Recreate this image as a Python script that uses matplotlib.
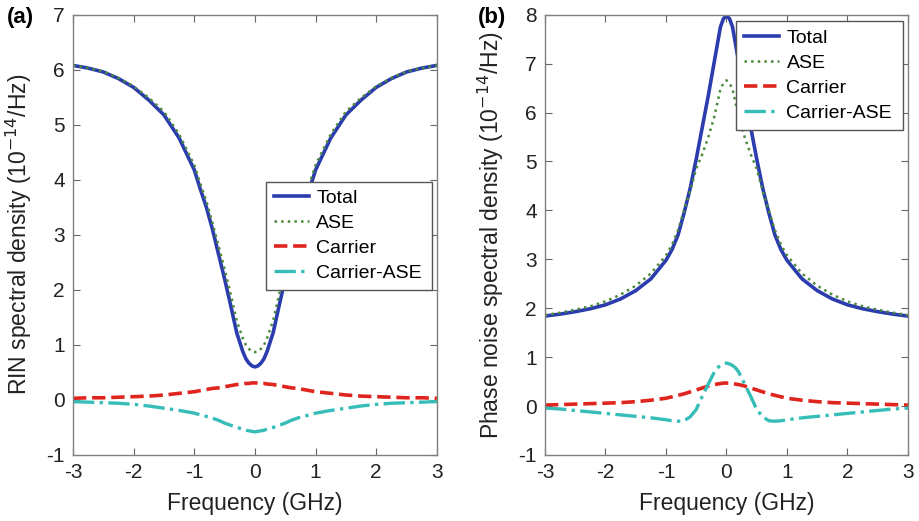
import numpy as np
import matplotlib.pyplot as plt

plt.rcParams['font.family'] = ['Liberation Sans', 'DejaVu Sans']
plt.rcParams['axes.unicode_minus'] = False

# Frequency grid (GHz)
freq = [-3, -2.75, -2.5, -2.25, -2, -1.75, -1.5, -1.25, -1, -0.9, -0.8, -0.7, -0.6, -0.5, -0.4,
        -0.3, -0.2, -0.15, -0.1, -0.05, 0, 0.05, 0.1, 0.15, 0.2, 0.3, 0.4, 0.5, 0.6, 0.7,
        0.8, 0.9, 1, 1.25, 1.5, 1.75, 2, 2.25, 2.5, 2.75, 3]

# (a) RIN spectral density (1e-14 /Hz)
rin_total = [6.08, 6.03, 5.96, 5.84, 5.68, 5.45, 5.18, 4.76, 4.18, 3.83, 3.50, 3.10, 2.65, 2.20, 1.72,
             1.22, 0.88, 0.75, 0.67, 0.62, 0.60, 0.62, 0.67, 0.75, 0.88, 1.22, 1.72, 2.20, 2.65, 3.10,
             3.50, 3.83, 4.18, 4.76, 5.18, 5.45, 5.68, 5.84, 5.96, 6.03, 6.08]
rin_ase = [6.08, 6.03, 5.97, 5.85, 5.70, 5.49, 5.24, 4.83, 4.27, 3.93, 3.61, 3.22, 2.80, 2.38, 1.92,
           1.44, 1.12, 1.00, 0.93, 0.88, 0.87, 0.88, 0.93, 1.00, 1.12, 1.44, 1.92, 2.38, 2.80, 3.22,
           3.61, 3.93, 4.27, 4.83, 5.24, 5.49, 5.70, 5.85, 5.97, 6.03, 6.08]
rin_carrier = [0.03, 0.04, 0.04, 0.05, 0.06, 0.07, 0.09, 0.12, 0.15, 0.17, 0.19, 0.21, 0.22, 0.24, 0.26,
               0.28, 0.29, 0.30, 0.30, 0.31, 0.31, 0.31, 0.30, 0.30, 0.29, 0.28, 0.26, 0.24, 0.22, 0.21,
               0.19, 0.17, 0.15, 0.12, 0.09, 0.07, 0.06, 0.05, 0.04, 0.04, 0.03]
rin_cross = [-0.03, -0.04, -0.05, -0.06, -0.08, -0.11, -0.15, -0.19, -0.24, -0.27, -0.30, -0.33, -0.37, -0.42, -0.46,
             -0.50, -0.53, -0.55, -0.56, -0.57, -0.58, -0.57, -0.56, -0.55, -0.53, -0.50, -0.46, -0.42, -0.37, -0.33,
             -0.30, -0.27, -0.24, -0.19, -0.15, -0.11, -0.08, -0.06, -0.05, -0.04, -0.03]

# (b) Phase noise spectral density (1e-14 /Hz)
pn_total = [1.84, 1.88, 1.93, 1.99, 2.07, 2.19, 2.36, 2.60, 2.98, 3.20, 3.50, 3.95, 4.45, 5.05, 5.70,
            6.35, 7.05, 7.40, 7.75, 7.92, 7.98, 7.92, 7.75, 7.40, 7.05, 6.35, 5.70, 5.05, 4.45, 3.95,
            3.50, 3.20, 2.98, 2.60, 2.36, 2.19, 2.07, 1.99, 1.93, 1.88, 1.84]
pn_ase = [1.86, 1.91, 1.97, 2.04, 2.14, 2.28, 2.46, 2.71, 3.08, 3.30, 3.60, 4.00, 4.40, 4.85, 5.15,
          5.50, 5.92, 6.20, 6.48, 6.60, 6.66, 6.60, 6.48, 6.20, 5.92, 5.50, 5.15, 4.85, 4.40, 4.00,
          3.60, 3.30, 3.08, 2.71, 2.46, 2.28, 2.14, 2.04, 1.97, 1.91, 1.86]
pn_carrier = [0.02, 0.03, 0.04, 0.05, 0.06, 0.07, 0.09, 0.12, 0.16, 0.19, 0.22, 0.25, 0.29, 0.33, 0.37,
              0.41, 0.44, 0.45, 0.46, 0.47, 0.47, 0.47, 0.46, 0.45, 0.44, 0.41, 0.37, 0.33, 0.29, 0.25,
              0.22, 0.19, 0.16, 0.12, 0.09, 0.07, 0.06, 0.05, 0.04, 0.03, 0.02]
pn_cross = [-0.04, -0.06, -0.09, -0.12, -0.15, -0.18, -0.21, -0.24, -0.28, -0.30, -0.31, -0.30, -0.22, -0.07, 0.20,
            0.45, 0.70, 0.78, 0.83, 0.86, 0.88, 0.86, 0.83, 0.78, 0.70, 0.45, 0.20, -0.07, -0.22, -0.30,
            -0.31, -0.30, -0.28, -0.24, -0.21, -0.18, -0.15, -0.12, -0.09, -0.06, -0.04]

labels = ['Total', 'ASE', 'Carrier', 'Carrier-ASE']
colors = ['#2b3cae', '#4a8a3a', '#e0241e', '#36bdb8']
styles = ['-', ':', '--', '-.']
widths = [2.6, 1.8, 2.6, 2.4]

fig = plt.figure(figsize=(9.19, 5.21), dpi=100)
ax1 = fig.add_axes([0.0794, 0.1267, 0.396, 0.845])
ax2 = fig.add_axes([0.593, 0.1267, 0.395, 0.845])

panels = [
    (ax1, [rin_total, rin_ase, rin_carrier, rin_cross], (-1, 7),
     'RIN spectral density (10$^{-14}$/Hz)', (0.53, 0.375, 0.456, 0.25)),
    (ax2, [pn_total, pn_ase, pn_carrier, pn_cross], (-1, 8),
     'Phase noise spectral density (10$^{-14}$/Hz)', (0.526, 0.739, 0.46, 0.25)),
]

for ax, series, ylim, ylabel, legbox in panels:
    for y, lab, c, ls, lw in zip(series, labels, colors, styles, widths):
        ax.plot(freq, y, color=c, linestyle=ls, linewidth=lw, label=lab)
    ax.set_xlim(-3, 3)
    ax.set_ylim(*ylim)
    ax.set_xticks(range(-3, 4))
    ax.set_yticks(range(ylim[0], ylim[1] + 1))
    ax.set_xlabel('Frequency (GHz)', fontsize=16.5, labelpad=7, color='#222222')
    ax.set_ylabel(ylabel, fontsize=16.5, labelpad=9, color='#222222')
    ax.tick_params(direction='in', top=True, right=True, labelsize=15, length=5,
                   color='#666666', labelcolor='#222222', pad=6)
    for sp in ax.spines.values():
        sp.set_color('#808080')
        sp.set_linewidth(1.0)
    leg = ax.legend(loc='lower left', bbox_to_anchor=legbox, mode='expand',
                    fontsize=14, handlelength=1.8, handletextpad=0.4, borderaxespad=0,
                    fancybox=False, framealpha=1, edgecolor='#555555',
                    labelspacing=0.38, borderpad=0.4)
    leg.get_frame().set_linewidth(1.0)

fig.text(0.008, 0.955, '(a)', fontsize=16, fontweight='bold')
fig.text(0.52, 0.955, '(b)', fontsize=16, fontweight='bold')

fig.savefig('out.png', dpi=100)
